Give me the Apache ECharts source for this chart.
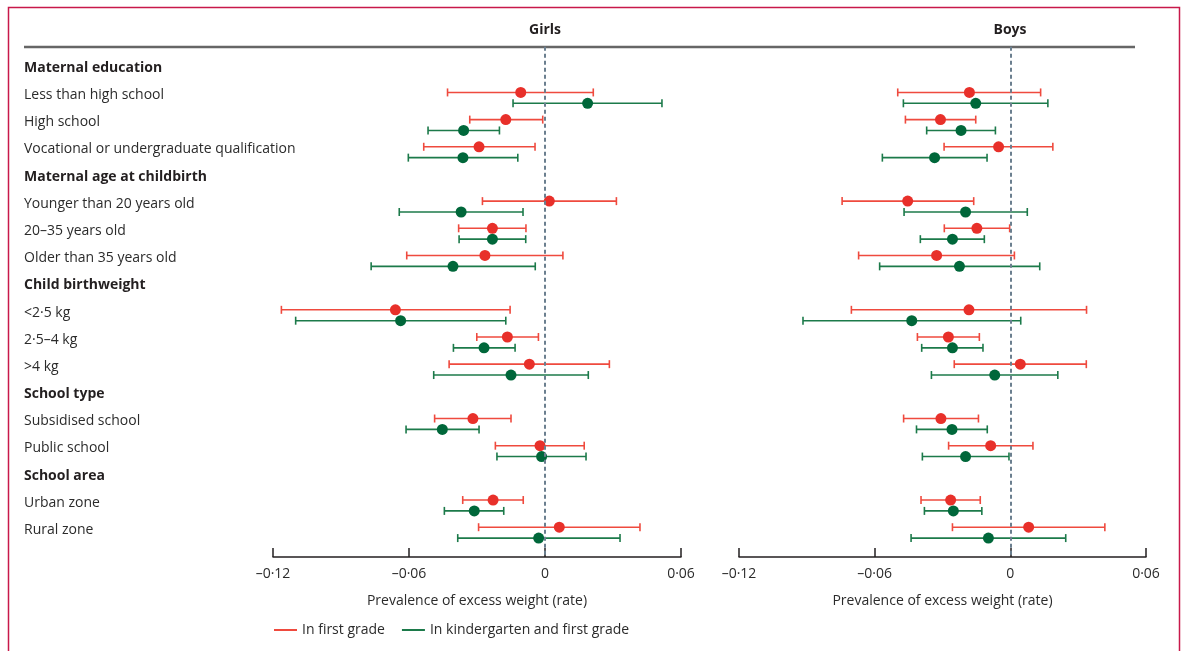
<!DOCTYPE html>
<html>
<head>
<meta charset="utf-8">
<script src="https://cdn.jsdelivr.net/npm/echarts@6/dist/echarts.min.js"></script>
<style>html,body{margin:0;padding:0;background:#fff}#c{width:1184px;height:651px}</style>
</head>
<body>
<div id="c"></div>
<script>
const rowLabels = ['Maternal education','Less than high school','High school','Vocational or undergraduate qualification','Maternal age at childbirth','Younger than 20 years old','20–35 years old','Older than 35 years old','Child birthweight','<2·5 kg','2·5–4 kg','>4 kg','School type','Subsidised school','Public school','School area','Urban zone','Rural zone'];
const headerRows = [0,4,8,12,15];
const dataRows = [1,2,3,5,6,7,9,10,11,13,14,16,17];
const panelTitles = ['Girls','Boys'];
const seriesNames = ['In first grade','In kindergarten and first grade'];
const tickLabels = ['–0·12','–0·06','0','0·06'];
const axisName = 'Prevalence of excess weight (rate)';

// [lower, estimate, upper] per data row
const girlsFirst = [
  [-0.0430,-0.0107,0.0213],[-0.0332,-0.0173,-0.0010],[-0.0535,-0.0291,-0.0044],
  [-0.0276,0.0019,0.0315],[-0.0381,-0.0232,-0.0084],[-0.0610,-0.0265,0.0079],
  [-0.1163,-0.0660,-0.0154],[-0.0301,-0.0166,-0.0029],[-0.0423,-0.0069,0.0284],
  [-0.0487,-0.0318,-0.0150],[-0.0219,-0.0022,0.0173],
  [-0.0363,-0.0229,-0.0096],[-0.0293,0.0063,0.0419]
];
const girlsKinder = [
  [-0.0141,0.0188,0.0516],[-0.0516,-0.0359,-0.0201],[-0.0603,-0.0362,-0.0120],
  [-0.0643,-0.0370,-0.0097],[-0.0379,-0.0232,-0.0085],[-0.0767,-0.0406,-0.0043],
  [-0.1100,-0.0637,-0.0173],[-0.0404,-0.0269,-0.0132],[-0.0491,-0.0150,0.0191],
  [-0.0613,-0.0453,-0.0291],[-0.0212,-0.0015,0.0181],
  [-0.0444,-0.0312,-0.0182],[-0.0385,-0.0028,0.0331]
];
const boysFirst = [
  [-0.0498,-0.0181,0.0134],[-0.0464,-0.0309,-0.0153],[-0.0293,-0.0052,0.0188],
  [-0.0744,-0.0454,-0.0162],[-0.0292,-0.0148,-0.0003],[-0.0671,-0.0326,0.0018],
  [-0.0703,-0.0183,0.0337],[-0.0411,-0.0274,-0.0137],[-0.0248,0.0044,0.0336],
  [-0.0472,-0.0307,-0.0141],[-0.0273,-0.0087,0.0100],
  [-0.0395,-0.0264,-0.0133],[-0.0256,0.0081,0.0418]
];
const boysKinder = [
  [-0.0473,-0.0153,0.0166],[-0.0370,-0.0218,-0.0066],[-0.0566,-0.0335,-0.0103],
  [-0.0470,-0.0198,0.0075],[-0.0398,-0.0256,-0.0115],[-0.0578,-0.0225,0.0130],
  [-0.0917,-0.0436,0.0046],[-0.0392,-0.0256,-0.0121],[-0.0349,-0.0069,0.0210],
  [-0.0415,-0.0258,-0.0102],[-0.0389,-0.0198,-0.0006],
  [-0.0380,-0.0252,-0.0126],[-0.0439,-0.0097,0.0245]
];

const FONT = 'Open Sans';
const TXT = '#2b2b2b';
const lineColors = ['#ef4a3e', '#1c7a4a'];
const dotColors = ['#e8302a', '#00673a'];
const rowOffsets = [-0.1, 0.3];

function build(arr, k) {
  return arr.map((d, i) => [d[0], d[1], d[2], dataRows[i] + rowOffsets[k]]);
}

function renderItem(k) {
  return function (params, api) {
    const y = api.value(3);
    const lo = api.coord([api.value(0), y]);
    const pt = api.coord([api.value(1), y]);
    const hi = api.coord([api.value(2), y]);
    const st = { stroke: lineColors[k], lineWidth: 1.6 };
    return {
      type: 'group',
      children: [
        { type: 'line', shape: { x1: lo[0], y1: lo[1], x2: hi[0], y2: hi[1] }, style: st },
        { type: 'line', shape: { x1: lo[0], y1: lo[1] - 4, x2: lo[0], y2: lo[1] + 4 }, style: st },
        { type: 'line', shape: { x1: hi[0], y1: hi[1] - 4, x2: hi[0], y2: hi[1] + 4 }, style: st },
        { type: 'circle', shape: { cx: pt[0], cy: pt[1], r: 5.5 }, style: { fill: dotColors[k] } }
      ]
    };
  };
}

const xAxisBase = (gi) => ({
  gridIndex: gi, type: 'value', position: 'bottom', min: -0.12, max: 0.06, interval: 0.06,
  axisLine: { show: true, onZero: false, lineStyle: { color: '#231f20', width: 1.5 } },
  axisTick: { show: true, inside: true, length: 9, lineStyle: { color: '#231f20', width: 1.5 } },
  splitLine: { show: false },
  axisLabel: {
    margin: 10, fontFamily: FONT, fontSize: 14, color: TXT,
    formatter: v => tickLabels[Math.round((v + 0.12) / 0.06)]
  },
  name: axisName, nameLocation: 'middle', nameGap: 37,
  nameTextStyle: { fontFamily: FONT, fontSize: 14, color: TXT }
});

const yAxisBase = (gi, showLabels) => ({
  gridIndex: gi, type: 'value', min: -1, max: 18, interval: 1, inverse: true,
  axisLine: { show: false }, axisTick: { show: false }, splitLine: { show: false },
  axisLabel: showLabels ? {
    show: true, align: 'left', margin: 249,
    formatter: v => {
      const t = rowLabels[v];
      if (t === undefined) return '';
      return headerRows.indexOf(v) >= 0 ? '{b|' + t + '}' : '{n|' + t + '}';
    },
    rich: {
      b: { fontFamily: FONT, fontSize: 14, fontWeight: 'bold', color: '#231f20' },
      n: { fontFamily: FONT, fontSize: 14, color: TXT }
    }
  } : { show: false }
});

const zeroLine = {
  silent: true, symbol: 'none', label: { show: false },
  lineStyle: { color: '#6b7f8f', type: [4, 3], width: 2 },
  data: [[{ coord: [0, -0.78] }, { coord: [0, 18] }]]
};

const datasets = [[girlsFirst, girlsKinder], [boysFirst, boysKinder]];
const series = [];
for (let g = 0; g < 2; g++) {
  for (let k = 0; k < 2; k++) {
    const s = {
      type: 'custom', name: seriesNames[k],
      xAxisIndex: g, yAxisIndex: g,
      itemStyle: { color: lineColors[k] },
      renderItem: renderItem(k),
      encode: { x: [0, 1, 2], y: 3 },
      data: build(datasets[g][k], k),
      clip: false
    };
    if (k === 0) s.markLine = zeroLine;
    series.push(s);
  }
}

const chart = echarts.init(document.getElementById('c'), null, { renderer: 'canvas' });
chart.setOption({
  animation: false,
  backgroundColor: '#fff',
  title: [
    { text: panelTitles[0], left: 545, top: 23, textAlign: 'center', padding: 0,
      textStyle: { fontFamily: FONT, fontSize: 14, fontWeight: 'bold', color: '#231f20' } },
    { text: panelTitles[1], left: 1010, top: 23, textAlign: 'center', padding: 0,
      textStyle: { fontFamily: FONT, fontSize: 14, fontWeight: 'bold', color: '#231f20' } }
  ],
  grid: [
    { left: 273, right: 503, top: 40.8, bottom: 93.9 },
    { left: 739, right: 38, top: 40.8, bottom: 93.9 }
  ],
  xAxis: [xAxisBase(0), xAxisBase(1)],
  yAxis: [yAxisBase(0, true), yAxisBase(1, false)],
  legend: {
    data: seriesNames, left: 269, top: 618, icon: 'rect',
    itemWidth: 23, itemHeight: 2, itemGap: 17,
    textStyle: { fontFamily: FONT, fontSize: 14, color: TXT }
  },
  graphic: [
    { type: 'rect', shape: { x: 8.5, y: 7.5, width: 1171, height: 700 },
      style: { fill: 'none', stroke: '#c8194a', lineWidth: 1.5 }, silent: true },
    { type: 'line', shape: { x1: 24, y1: 47, x2: 1135, y2: 47 },
      style: { stroke: '#666', lineWidth: 2.5 }, silent: true }
  ],
  series: series
});
</script>
</body>
</html>
